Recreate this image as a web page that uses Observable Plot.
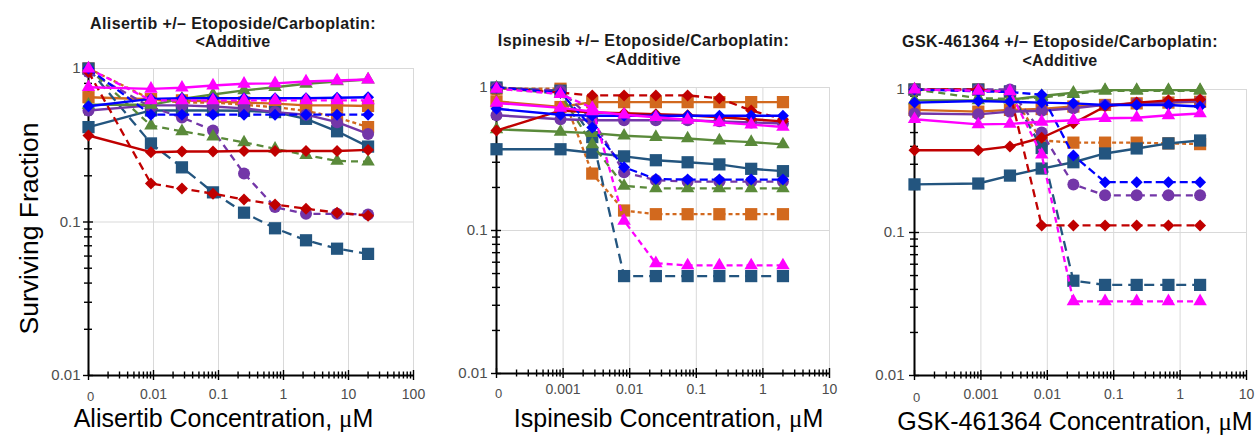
<!DOCTYPE html>
<html>
<head>
<meta charset="utf-8">
<script src="https://cdn.jsdelivr.net/npm/d3@7"></script>
<script src="https://cdn.jsdelivr.net/npm/@observablehq/plot@0.6"></script>
<style>
  html, body { margin: 0; padding: 0; background: #fff; }
  #wrap { position: relative; width: 1257px; height: 436px; overflow: hidden; background: #fff;
          font-family: "Liberation Sans", Arial, sans-serif; }
</style>
</head>
<body>
<div id="wrap"></div>
<script>
// ---------------- DATA ----------------
// concentrations (µM); 0 = drug-free control, drawn at the axis origin
const aliConc = [0, 0.00914, 0.0274, 0.0823, 0.247, 0.741, 2.22, 6.67, 20];
const ispConc = [0, 0.000914, 0.00274, 0.00823, 0.0247, 0.0741, 0.222, 0.667, 2];
const gskConc = [0, 0.000914, 0.00274, 0.00823, 0.0247, 0.0741, 0.222, 0.667, 2];

// tick values and labels
const yTicks = [0.01, 0.1, 1];
const yTickLabels = ["0.01", "0.1", "1"];
const aliXTicks = [0.001, 0.01, 0.1, 1, 10, 100];
const aliXTickLabels = ["0", "0.01", "0.1", "1", "10", "100"];
const ispXTicks = [0.0001, 0.001, 0.01, 0.1, 1, 10];
const ispXTickLabels = ["0", "0.001", "0.01", "0.1", "1", "10"];
const gskXTicks = [0.0001, 0.001, 0.01, 0.1, 1, 10];
const gskXTickLabels = ["0", "0.001", "0.01", "0.1", "1", "10"];

// Alisertib panel: drug alone (solid) and + Etoposide/Carboplatin (dashed)
const aliNavyAlone    = [0.415, 0.533, 0.533, 0.533, 0.53, 0.52, 0.47, 0.39, 0.31];
const aliNavyCombo    = [1.0, 0.325, 0.227, 0.156, 0.115, 0.091, 0.076, 0.067, 0.062];
const aliOrangeAlone  = [0.65, 0.63, 0.62, 0.61, 0.6, 0.59, 0.575, 0.575, 0.57];
const aliOrangeCombo  = [1.0, 0.63, 0.6, 0.6, 0.58, 0.56, 0.53, 0.48, 0.415];
const aliRedAlone     = [0.366, 0.285, 0.288, 0.288, 0.29, 0.29, 0.29, 0.29, 0.295];
const aliRedCombo     = [0.95, 0.178, 0.165, 0.153, 0.14, 0.13, 0.122, 0.115, 0.11];
const aliGreenAlone   = [0.58, 0.58, 0.634, 0.677, 0.72, 0.755, 0.795, 0.823, 0.848];
const aliGreenCombo   = [1.0, 0.425, 0.39, 0.36, 0.33, 0.3, 0.273, 0.25, 0.247];
const aliPurpleAlone  = [0.533, 0.575, 0.575, 0.565, 0.55, 0.52, 0.5, 0.447, 0.375];
const aliPurpleCombo  = [0.95, 0.56, 0.48, 0.395, 0.207, 0.125, 0.113, 0.113, 0.112];
const aliBlueAlone    = [0.568, 0.634, 0.64, 0.64, 0.64, 0.64, 0.64, 0.645, 0.65];
const aliBlueCombo    = [1.0, 0.5, 0.5, 0.5, 0.5, 0.5, 0.5, 0.5, 0.5];
const aliMagentaAlone = [0.755, 0.737, 0.75, 0.775, 0.795, 0.8, 0.823, 0.835, 0.848];
const aliMagentaCombo = [1.0, 0.62, 0.62, 0.62, 0.62, 0.62, 0.62, 0.62, 0.62];

// Ispinesib panel
const ispNavyAlone    = [0.37, 0.37, 0.35, 0.33, 0.31, 0.3, 0.29, 0.27, 0.26];
const ispNavyCombo    = [1.0, 0.95, 0.45, 0.048, 0.048, 0.048, 0.048, 0.048, 0.048];
const ispOrangeAlone  = [0.8, 0.73, 0.79, 0.79, 0.79, 0.79, 0.79, 0.79, 0.79];
const ispOrangeCombo  = [0.98, 0.98, 0.25, 0.138, 0.13, 0.13, 0.13, 0.13, 0.13];
const ispRedAlone     = [0.5, 0.69, 0.67, 0.66, 0.65, 0.64, 0.62, 0.6, 0.58];
const ispRedCombo     = [1.0, 0.92, 0.88, 0.88, 0.88, 0.88, 0.84, 0.69, 0.6];
const ispGreenAlone   = [0.51, 0.49, 0.48, 0.46, 0.45, 0.44, 0.425, 0.415, 0.4];
const ispGreenCombo   = [1.0, 0.9, 0.4, 0.205, 0.197, 0.197, 0.197, 0.197, 0.197];
const ispPurpleAlone  = [0.64, 0.6, 0.59, 0.59, 0.59, 0.59, 0.58, 0.57, 0.56];
const ispPurpleCombo  = [1.0, 0.95, 0.6, 0.255, 0.225, 0.22, 0.22, 0.22, 0.22];
const ispBlueAlone    = [0.71, 0.645, 0.635, 0.635, 0.635, 0.635, 0.635, 0.635, 0.635];
const ispBlueCombo    = [1.0, 0.92, 0.525, 0.277, 0.229, 0.227, 0.227, 0.227, 0.227];
const ispMagentaAlone = [0.78, 0.72, 0.68, 0.645, 0.62, 0.595, 0.57, 0.55, 0.53];
const ispMagentaCombo = [0.98, 0.9, 0.72, 0.117, 0.059, 0.057, 0.057, 0.057, 0.057];

// GSK-461364 panel
const gskNavyAlone    = [0.217, 0.22, 0.25, 0.28, 0.31, 0.357, 0.387, 0.42, 0.44];
const gskNavyCombo    = [1.0, 1.0, 0.97, 0.39, 0.046, 0.043, 0.043, 0.043, 0.043];
const gskOrangeAlone  = [0.72, 0.7, 0.72, 0.73, 0.76, 0.78, 0.8, 0.81, 0.82];
const gskOrangeCombo  = [1.0, 1.0, 0.96, 0.44, 0.425, 0.425, 0.425, 0.42, 0.415];
const gskRedAlone     = [0.376, 0.376, 0.4, 0.46, 0.58, 0.76, 0.81, 0.84, 0.85];
const gskRedCombo     = [1.0, 1.0, 0.95, 0.112, 0.112, 0.112, 0.112, 0.112, 0.112];
const gskGreenAlone   = [0.84, 0.84, 0.85, 0.9, 0.95, 0.99, 0.99, 0.99, 0.99];
const gskGreenCombo   = [1.0, 0.87, 0.86, 0.88, 0.93, 0.98, 0.98, 0.98, 0.98];
const gskPurpleAlone  = [0.68, 0.67, 0.7, 0.71, 0.74, 0.78, 0.8, 0.81, 0.83];
const gskPurpleCombo  = [1.0, 1.0, 1.0, 0.5, 0.217, 0.182, 0.182, 0.182, 0.182];
const gskBlueAlone    = [0.81, 0.83, 0.82, 0.81, 0.8, 0.78, 0.78, 0.78, 0.76];
const gskBlueCombo    = [1.0, 0.97, 0.96, 0.92, 0.345, 0.225, 0.225, 0.225, 0.225];
const gskMagentaAlone = [0.62, 0.57, 0.575, 0.595, 0.61, 0.63, 0.635, 0.66, 0.68];
const gskMagentaCombo = [1.0, 0.98, 0.97, 0.35, 0.033, 0.033, 0.033, 0.033, 0.033];

// text
const titles = [
  ["Alisertib +/\u2013 Etoposide/Carboplatin:", "<Additive"],
  ["Ispinesib +/\u2013 Etoposide/Carboplatin:", "<Additive"],
  ["GSK-461364 +/\u2013 Etoposide/Carboplatin:", "<Additive"]
];
const xLabels = ["Alisertib Concentration, ", "Ispinesib Concentration, ", "GSK-461364 Concentration, "];
const yLabel = "Surviving Fraction";

// ---------------- STYLE ----------------
const ORDER = ["orange", "navy", "purple", "green", "red", "blue", "magenta"];
const COLORS = { navy: "#23557f", orange: "#d2691e", red: "#c00000", green: "#5a8a3a",
                 purple: "#7336a8", blue: "#0000ff", magenta: "#ff00ff" };
const SYMBOLS = { navy: "square", orange: "square", red: "diamond2", green: "triangle",
                  purple: "circle", blue: "diamond2", magenta: "triangle" };
const RADII = { navy: 6.9, orange: 6.9, red: 5.4, green: 5.0, purple: 6.0, blue: 5.4, magenta: 5.0 };
const DASHES = { navy: "10,6", orange: "4,3", red: "8,5", green: "7,5", purple: "7,5", blue: "8,4", magenta: "6,4" };

const H = 436;
const panels = [
  { conc: aliConc, ticks: aliXTicks, labels: aliXTickLabels, left: 0, width: 432, mL: 88, mR: 19, mT: 68, mB: 61,
    yPad: 8, xPad: 13.4, zeroDy: 15.8,
    series: { navy: [aliNavyAlone, aliNavyCombo], orange: [aliOrangeAlone, aliOrangeCombo], red: [aliRedAlone, aliRedCombo],
              green: [aliGreenAlone, aliGreenCombo], purple: [aliPurpleAlone, aliPurpleCombo], blue: [aliBlueAlone, aliBlueCombo],
              magenta: [aliMagentaAlone, aliMagentaCombo] } },
  { conc: ispConc, ticks: ispXTicks, labels: ispXTickLabels, left: 420, width: 420, mL: 76, mR: 11, mT: 87, mB: 63,
    yPad: 9, xPad: 10.4, zeroDy: 15.4,
    series: { navy: [ispNavyAlone, ispNavyCombo], orange: [ispOrangeAlone, ispOrangeCombo], red: [ispRedAlone, ispRedCombo],
              green: [ispGreenAlone, ispGreenCombo], purple: [ispPurpleAlone, ispPurpleCombo], blue: [ispBlueAlone, ispBlueCombo],
              magenta: [ispMagentaAlone, ispMagentaCombo] } },
  { conc: gskConc, ticks: gskXTicks, labels: gskXTickLabels, left: 840, width: 417, mL: 74, mR: 11, mT: 89, mB: 61,
    yPad: 10, xPad: 13.4, zeroDy: 16.8,
    series: { navy: [gskNavyAlone, gskNavyCombo], orange: [gskOrangeAlone, gskOrangeCombo], red: [gskRedAlone, gskRedCombo],
              green: [gskGreenAlone, gskGreenCombo], purple: [gskPurpleAlone, gskPurpleCombo], blue: [gskBlueAlone, gskBlueCombo],
              magenta: [gskMagentaAlone, gskMagentaCombo] } }
];

function minorTicks(lo, hi) {
  const out = [];
  for (let e = Math.round(Math.log10(lo)); e < Math.round(Math.log10(hi)); e++)
    for (let k = 2; k <= 9; k++) out.push(+(k * Math.pow(10, e)).toPrecision(3));
  return out;
}

const wrap = document.getElementById("wrap");

panels.forEach((p) => {
  const xmin = p.ticks[0], xmax = p.ticks[p.ticks.length - 1];
  const plotW = p.width - p.mL - p.mR;
  const plotH = H - p.mT - p.mB;
  const rows = [];
  for (const key of ORDER) {
    const [alone, combo] = p.series[key];
    p.conc.forEach((c, i) => {
      rows.push({ key, kind: "combo", x: c === 0 ? xmin : c, y: combo[i] });
      rows.push({ key, kind: "alone", x: c === 0 ? xmin : c, y: alone[i] });
    });
  }
  const seriesMarks = [];
  for (const key of ORDER) {
    for (const kind of ["combo", "alone"]) {
      const sel = rows.filter(d => d.key === key && d.kind === kind);
      seriesMarks.push(Plot.line(sel, {
        x: "x", y: "y", stroke: COLORS[key], strokeWidth: kind === "combo" ? 2.3 : 2.4,
        strokeDasharray: kind === "combo" ? DASHES[key] : "none", strokeLinecap: "butt", strokeLinejoin: "round"
      }));
      seriesMarks.push(Plot.dot(sel, {
        x: "x", y: "y", symbol: SYMBOLS[key], r: RADII[key], fill: COLORS[key], stroke: "none"
      }));
    }
  }
  const yMinor = minorTicks(0.01, 1);
  const xMinor = minorTicks(xmin, xmax);
  const chart = Plot.plot({
    width: p.width, height: H,
    marginLeft: p.mL, marginRight: p.mR, marginTop: p.mT, marginBottom: p.mB,
    x: { type: "log", domain: [xmin, xmax] },
    y: { type: "log", domain: [0.01, 1] },
    style: { background: "transparent", overflow: "visible", position: "absolute", left: p.left + "px", top: "0px",
             maxWidth: "none", fontFamily: "'Liberation Sans', Arial, sans-serif" },
    marks: [
      Plot.ruleX(p.ticks.slice(1), { x: d => d, stroke: "#d9d9d9", strokeWidth: 1 }),
      Plot.ruleY([0.1, 1], { y: d => d, stroke: "#d9d9d9", strokeWidth: 1 }),
      Plot.ruleX([xmin], { x: d => d, stroke: "#000", strokeWidth: 2 }),
      Plot.ruleY([0.01], { y: d => d, stroke: "#000", strokeWidth: 2 }),
      Plot.tickX(xMinor, { x: d => d, insetTop: plotH - 7, dy: 3.5, stroke: "#000", strokeWidth: 1.4 }),
      Plot.tickX(p.ticks, { x: d => d, insetTop: plotH - 10, dy: 5, stroke: "#000", strokeWidth: 1.4 }),
      Plot.tickY(yMinor, { y: d => d, insetRight: plotW - 8, dx: -4, stroke: "#000", strokeWidth: 1.4 }),
      Plot.tickY(yTicks, { y: d => d, insetRight: plotW - 10, dx: -5, stroke: "#000", strokeWidth: 1.4 }),
      ...seriesMarks,
      Plot.axisY({ ticks: yTicks, tickFormat: d => yTickLabels[yTicks.indexOf(d)], tickSize: 0, tickPadding: p.yPad,
                   fontSize: 15, color: "#4d4d4d", label: null }),
      Plot.axisX({ ticks: p.ticks.slice(1), tickFormat: d => p.labels[p.ticks.indexOf(d)], tickSize: 0, tickPadding: p.xPad,
                   fontSize: 14, color: "#4d4d4d", label: null }),
      Plot.text([xmin], { x: d => d, frameAnchor: "bottom", lineAnchor: "top", dy: p.zeroDy, dx: 2,
                          text: () => p.labels[0], fontSize: 13, fill: "#4d4d4d" })
    ]
  });
  wrap.appendChild(chart);
});

// ---------------- TEXT OVERLAY ----------------
const overlay = d3.create("svg")
  .attr("width", 1257).attr("height", H)
  .style("position", "absolute").style("left", "0px").style("top", "0px")
  .style("pointer-events", "none")
  .style("font-family", "'Liberation Sans', Arial, sans-serif");

const titlePos = [ { cx: 233, b1: 28.5, b2: 46.7 }, { cx: 643.5, b1: 46, b2: 64.5 }, { cx: 1060, b1: 47.3, b2: 66 } ];
titles.forEach((t, i) => {
  const tp = titlePos[i];
  t.forEach((line, j) => {
    overlay.append("text").attr("x", tp.cx).attr("y", j === 0 ? tp.b1 : tp.b2)
      .attr("text-anchor", "middle").attr("font-weight", "bold").attr("font-size", 16)
      .attr("letter-spacing", j === 0 ? 0.4 : 0.3).attr("fill", "#1a1a1a").text(line);
  });
});

const xLabPos = [ { cx: 223.5, b: 427 }, { cx: 668.5, b: 427 }, { cx: 1075, b: 430 } ];
xLabels.forEach((lab, i) => {
  const t = overlay.append("text").attr("x", xLabPos[i].cx).attr("y", xLabPos[i].b)
    .attr("text-anchor", "middle").attr("font-size", 25).attr("fill", "#000");
  t.append("tspan").text(lab);
  t.append("tspan").attr("font-family", "'Liberation Serif', serif").text("\u03bc");
  t.append("tspan").text("M");
});

overlay.append("text")
  .attr("transform", "translate(38,228.5) rotate(-90)")
  .attr("text-anchor", "middle").attr("font-size", 26.5).attr("fill", "#000")
  .text(yLabel);

wrap.appendChild(overlay.node());
</script>
</body>
</html>
